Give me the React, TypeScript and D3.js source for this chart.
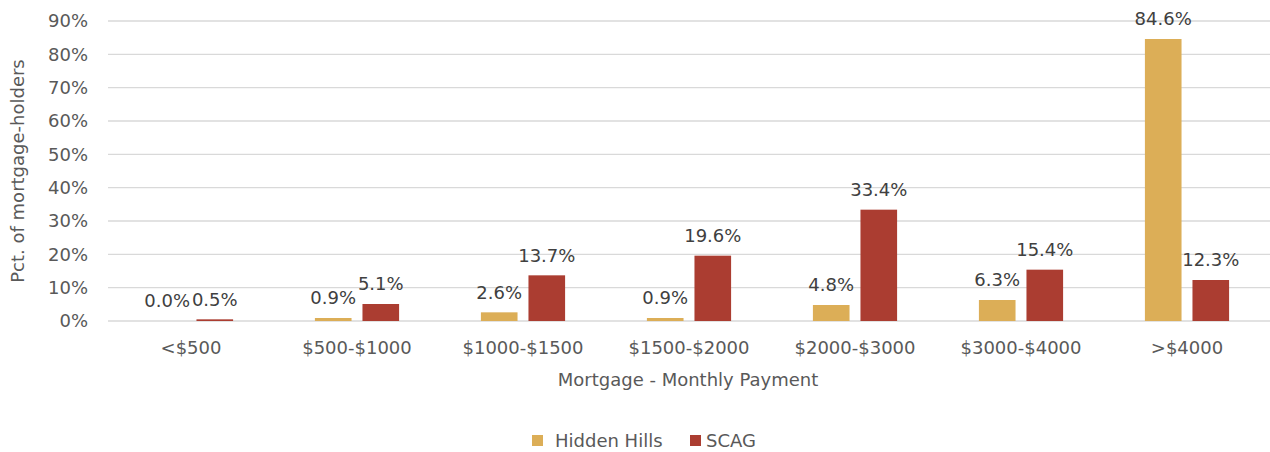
import React from "react";
import * as d3 from "d3";

const categories = ["<$500", "$500-$1000", "$1000-$1500", "$1500-$2000", "$2000-$3000", "$3000-$4000", ">$4000"];
const hiddenHills = [0.0, 0.9, 2.6, 0.9, 4.8, 6.3, 84.6];
const scag = [0.5, 5.1, 13.7, 19.6, 33.4, 15.4, 12.3];
const yTicks = [0, 10, 20, 30, 40, 50, 60, 70, 80, 90];

const series = [
  { name: "Hidden Hills", values: hiddenHills, color: "#DCAE57" },
  { name: "SCAG", values: scag, color: "#AB3D31" },
];

const W = 1270;
const H = 452;
const margin = { top: 21, right: 0, bottom: 131, left: 108 };
const font = "'DejaVu Sans', Verdana, sans-serif";
const fs = 18;

export default function App() {
  const x = d3
    .scaleBand()
    .domain(categories)
    .range([margin.left, W - margin.right]);
  const y = d3
    .scaleLinear()
    .domain([0, 90])
    .range([H - margin.bottom, margin.top]);
  const inner = d3
    .scaleBand()
    .domain(series.map((s) => s.name))
    .range([0, x.bandwidth()])
    .paddingInner(0.23)
    .paddingOuter(0.86);

  return (
    <svg width={W} height={H} style={{ position: "absolute", left: 0, top: 0 }} fontFamily={font}>
      <rect width={W} height={H} fill="#fff" />
      {yTicks.map((t) => (
        <g key={t}>
          <line x1={margin.left} x2={W - margin.right} y1={y(t)} y2={y(t)} stroke="#D9D9D9" strokeWidth={1.3} />
          <text x={88} y={y(t)} dy="0.35em" textAnchor="end" fontSize={fs} fill="#595959">
            {t}%
          </text>
        </g>
      ))}
      {series.map((s) => (
        <g key={s.name}>
          {s.values.map((v, i) => {
            const bx = (x(categories[i]) ?? 0) + (inner(s.name) ?? 0);
            return (
              <g key={i}>
                <rect x={bx} y={y(v)} width={inner.bandwidth()} height={y(0) - y(v)} fill={s.color} />
                <text
                  x={bx + inner.bandwidth() / 2}
                  y={y(v) - 20}
                  dy="0.35em"
                  textAnchor="middle"
                  fontSize={fs}
                  fill="#404040"
                >
                  {v.toFixed(1)}%
                </text>
              </g>
            );
          })}
        </g>
      ))}
      {categories.map((c) => (
        <text
          key={c}
          x={(x(c) ?? 0) + x.bandwidth() / 2}
          y={348}
          dy="0.35em"
          textAnchor="middle"
          fontSize={fs}
          fill="#595959"
        >
          {c}
        </text>
      ))}
      <text x={688} y={380} dy="0.35em" textAnchor="middle" fontSize={fs} fill="#595959">
        Mortgage - Monthly Payment
      </text>
      <text
        transform={`translate(18,${(y(0) + y(90)) / 2}) rotate(-90)`}
        dy="0.35em"
        textAnchor="middle"
        fontSize={fs}
        fill="#595959"
      >
        Pct. of mortgage-holders
      </text>
      <g>
        <rect x={532} y={435} width={11} height={11} fill={series[0].color} />
        <text x={555} y={441} dy="0.35em" fontSize={fs} fill="#595959">
          {series[0].name}
        </text>
        <rect x={690} y={435} width={11} height={11} fill={series[1].color} />
        <text x={706} y={441} dy="0.35em" fontSize={fs} fill="#595959">
          {series[1].name}
        </text>
      </g>
    </svg>
  );
}
